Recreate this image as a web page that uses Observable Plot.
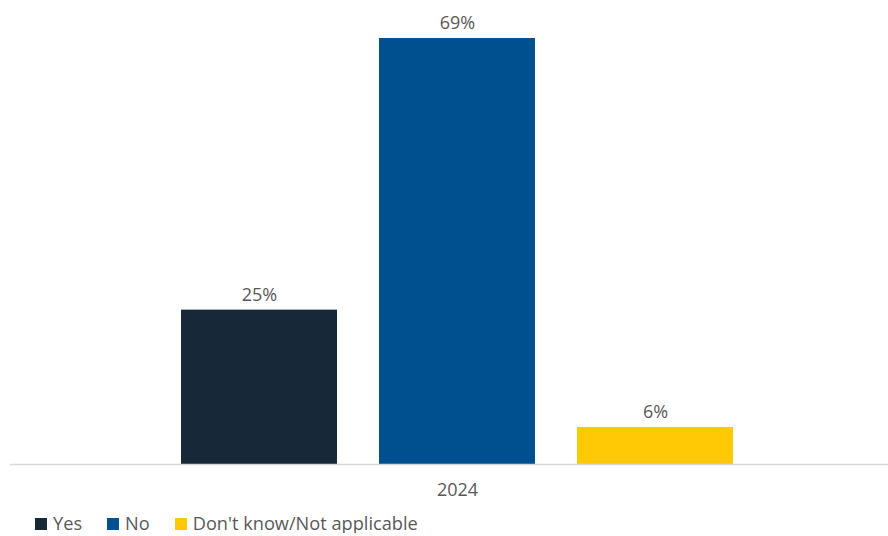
<!DOCTYPE html>
<html>
<head>
<meta charset="utf-8">
<script src="https://cdn.jsdelivr.net/npm/d3@7"></script>
<script src="https://cdn.jsdelivr.net/npm/@observablehq/plot@0.6"></script>
<style>
  html, body { margin: 0; background: #fff; font-family: "Open Sans", sans-serif; overflow: hidden; }
  #chart svg { display: block; }
  .legend { display: flex; align-items: center; margin-top: 3px; padding-left: 35px; height: 20px; line-height: 20px; font-size: 18.2px; color: #595959; white-space: nowrap; }
  .item { display: flex; align-items: center; margin-right: 25px; }
  .sw { width: 12px; height: 12px; margin-right: 6px; margin-top: 2px; display: inline-block; }
</style>
</head>
<body>
<div id="chart"></div>
<script>
const years = ["2024"];
const categories = ["Yes", "No", "Don't know/Not applicable"];
const values = [25, 69, 6];
const colors = ["#172839", "#00508f", "#ffca05"];

const data = categories.map((c, i) => ({year: years[0], category: c, value: values[i]}));

const chart = Plot.plot({
  width: 888,
  height: 510,
  marginLeft: 10,
  marginRight: 0,
  marginTop: 38,
  marginBottom: 46,
  style: {fontFamily: "Open Sans, sans-serif", background: "#fff"},
  fx: {domain: years, padding: 0},
  x: {domain: categories, paddingInner: 42/198, paddingOuter: 0.82323, align: 0.5245, axis: null},
  y: {domain: [0, 69], axis: null},
  color: {domain: categories, range: colors},
  marks: [
    Plot.barY(data, {fx: "year", x: "category", y: "value", fill: "category"}),
    Plot.text(data, {fx: "year", x: "category", y: "value", text: d => d.value + "%", dy: -15, fontSize: 18, fill: "#595959"}),
    Plot.ruleY([0], {stroke: "#d9d9d9", strokeWidth: 1.5}),
    Plot.axisFx({anchor: "bottom", tickSize: 0, tickPadding: 19, fontSize: 18, dx: 8, label: null, fill: "#595959"})
  ]
});
document.getElementById("chart").appendChild(chart);

const legend = document.createElement("div");
legend.className = "legend";
categories.forEach((c, i) => {
  const item = document.createElement("span");
  item.className = "item";
  const sw = document.createElement("span");
  sw.className = "sw";
  sw.style.background = colors[i];
  const t = document.createElement("span");
  t.textContent = c;
  item.appendChild(sw);
  item.appendChild(t);
  legend.appendChild(item);
});
document.getElementById("chart").appendChild(legend);
</script>
</body>
</html>
